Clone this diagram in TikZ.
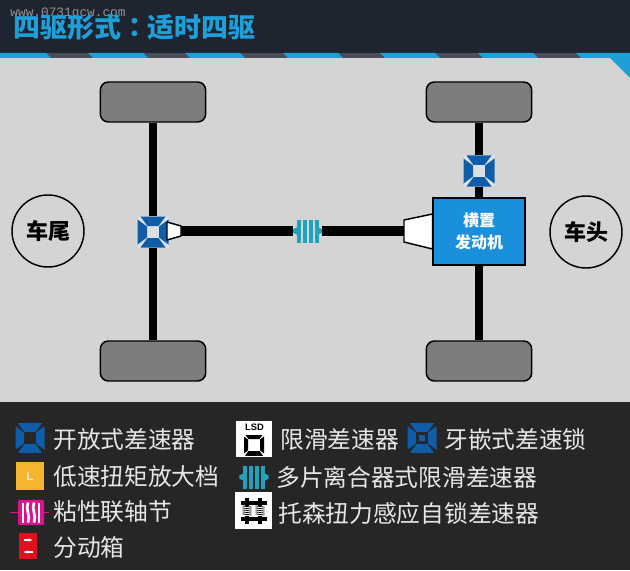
\documentclass[tikz,border=0pt]{standalone}
\usepackage{fontspec}
\setmainfont{Noto Sans CJK SC}
\newfontfamily\tcfont{Noto Sans CJK TC}
\newfontfamily\markfont{Liberation Mono}
\setsansfont{Liberation Sans}
\usetikzlibrary{arrows.meta}

\definecolor{headdark}{HTML}{1E2530}
\definecolor{stripeblue}{HTML}{1E9FD8}
\definecolor{stripegray}{HTML}{4A4E5A}
\definecolor{groundgray}{HTML}{D4D4D4}
\definecolor{legenddark}{HTML}{262626}
\definecolor{wheelgray}{HTML}{7D7D7D}
\definecolor{enginblue}{HTML}{1A8FDB}
\definecolor{diffblue}{HTML}{0F5CA8}
\definecolor{gaplight}{HTML}{DCE0E4}
\definecolor{plateteal}{HTML}{1FA3BC}
\definecolor{lowyellow}{HTML}{F5B52E}
\definecolor{viscpink}{HTML}{D9148C}
\definecolor{boxred}{HTML}{E0101E}
\definecolor{legendtext}{HTML}{E6E6E6}

\tikzset{
  wheel/.style={draw=black,line width=1.1pt,fill=wheelgray,rounded corners=6pt,
    minimum width=79pt,minimum height=30pt,inner sep=0pt},
  axle/.style={line width=6.5pt,black},
  shaft/.style={line width=7.5pt,black},
  sidecircle/.style={circle,draw=black,line width=1.1pt,fill=groundgray,minimum size=54pt,
    inner sep=0pt,font=\fontsize{16.5}{18}\selectfont\bfseries},
  cone/.style={draw=black,line width=1.1pt,fill=white,line join=round},
  legendlabel/.style={anchor=west,inner sep=0pt,text=legendtext,font=\fontsize{17.8}{20}\selectfont},
  diffsym/.style n args={3}{minimum size=#1*.75pt,inner sep=0pt,fill=#2,
    path picture={
      \begin{scope}[shift={(path picture bounding box.center)},scale=#1/31,#3]
        \fill (-12.5,15.5) -- (12.5,15.5) -- (5.5,6) -- (-5.5,6) -- cycle;
        \fill (-12.5,-15.5) -- (12.5,-15.5) -- (5.5,-6) -- (-5.5,-6) -- cycle;
        \fill (15.5,-12.5) -- (15.5,12.5) -- (6,5.5) -- (6,-5.5) -- cycle;
        \fill (-15.5,-12.5) -- (-15.5,12.5) -- (-6,5.5) -- (-6,-5.5) -- cycle;
      \end{scope}}},
  platesym/.style={minimum width=22pt,minimum height=17.5pt,inner sep=0pt,
    path picture={
      \begin{scope}[shift={(path picture bounding box.center)},plateteal]
        \foreach \px in {-9,-3,3,9}
          \fill (\px-2,-11.5) rectangle (\px+2,11.5);
        \fill (-15,-1.5) -- (-9,-4.5) -- (-9,4.5) -- (-15,1.5) -- cycle;
        \fill (15,-1.5) -- (9,-4.5) -- (9,4.5) -- (15,1.5) -- cycle;
      \end{scope}}},
  viscsym/.style={fill=viscpink,rounded corners=1pt,minimum width=19.5pt,minimum height=19pt,inner sep=0pt,
    path picture={
      \begin{scope}[shift={(path picture bounding box.center)}]
        \foreach \px in {-8,8}
          \draw[white,line width=2pt] (\px,-10) -- (\px,10);
        \foreach \px in {-3,3}
          \draw[white,line width=2pt] (\px,-10) .. controls (\px-3,-4) and (\px+3,4) .. (\px,10);
      \end{scope}}},
  redsym/.style={fill=boxred,minimum width=13.5pt,minimum height=19.5pt,inner sep=0pt,
    path picture={
      \begin{scope}[shift={(path picture bounding box.center)}]
        \draw[white,line width=1pt,-{Stealth[length=3pt]}] (-4.5,-6) -- (4.5,-6);
        \draw[white,line width=1pt,-{Stealth[length=3pt]}] (4.5,6) -- (-4.5,6);
      \end{scope}}},
  torsensym/.style={fill=white,minimum width=28pt,minimum height=27.5pt,inner sep=0pt,
    path picture={
      \begin{scope}[shift={(path picture bounding box.center)},black]
        \foreach \px in {-6.5,6.5}{
          \fill (\px-6.5,-10) rectangle (\px+6.5,-6);
          \fill (\px-6.5,6) rectangle (\px+6.5,10);
          \fill (\px-2,-13) rectangle (\px+2,-5);
          \fill (\px-2,5) rectangle (\px+2,13);
          \foreach \py in {-4,-2,0,2,4}
            \draw[line width=.6pt] (\px-4.5,\py-.6) -- (\px+4.5,\py+.6);
        }
      \end{scope}}}
}

\begin{document}
\begin{tikzpicture}[x=.75pt,y=-.75pt]
  \useasboundingbox (0,0) rectangle (630,570);
  \fill[groundgray] (0,58) rectangle (630,402);
  \fill[headdark] (0,0) rectangle (630,53);
  \fill[legenddark] (0,402) rectangle (630,570);
  \fill[stripeblue] (610,58) -- (630,58) -- (630,78) -- cycle;
  \begin{scope}
    \clip (0,53) rectangle (630,58);
    \fill[stripegray] (0,53) rectangle (630,58);
    \foreach \sx in {-4,93,190,288,385,483,581}
      \fill[stripeblue] (\sx-5,53) -- (\sx+50,53) -- (\sx+55,58) -- (\sx,58) -- cycle;
  \end{scope}

  \draw
    (68,14) node[text=gray!85,font=\markfont\fontsize{9.6}{10}\selectfont] (site){www.0731qcw.com}
    (13,27) node[anchor=west,inner sep=0pt,text=stripeblue,font=\fontsize{20.2}{22}\selectfont\bfseries] (title){四驱形式{\tcfont\bfseries ：}适时四驱}
    (153,102) node[wheel] (rearleft){}
    (153,361) node[wheel] (rearright){}
    (479,102) node[wheel] (frontleft){}
    (479,361) node[wheel] (frontright){}
    (48,231) node[sidecircle] (tail){车尾}
    (586,232) node[sidecircle] (head){车头}
    (153,232) node[diffsym={31}{gaplight}{diffblue}] (reardiff){}
    (479,171) node[diffsym={31}{gaplight}{diffblue}] (frontdiff){}
    (479,231.5) node[fill=enginblue,draw=black,line width=1.1pt,minimum width=69pt,minimum height=50pt,inner sep=0pt,
      align=center,text=white,font=\fontsize{12}{16}\selectfont\bfseries] (engine){横置\\发动机}
    (307.5,231) node[platesym] (clutch){};

  \coordinate (rearneck) at (181,231);
  \coordinate (frontneck) at (404,231);

  \begin{scope}[axle]
    \draw (rearleft) -- (reardiff);
    \draw (reardiff) -- (rearright);
    \draw (frontleft) -- (frontdiff);
    \draw (frontdiff) -- (engine);
    \draw (engine) -- (frontright);
  \end{scope}
  \begin{scope}[shaft]
    \draw (rearneck) -- (clutch);
    \draw (clutch) -- (frontneck);
  \end{scope}

  \draw[cone] (167,222) -- (181,226) -- (181,236) -- (167,240) -- cycle;
  \draw[cone] (404,220) -- (432.5,214) -- (432.5,249) -- (404,242) -- cycle;

  \draw
    (30,438) node[diffsym={29}{legenddark}{diffblue}] (opendiff){}
    (53,439) node[legendlabel] (opentext){开放式差速器}
    (30,476) node[fill=lowyellow,minimum size=21pt,inner sep=0pt,text=white!70!lowyellow,
      font=\sffamily\bfseries\fontsize{9}{10}\selectfont] (lowrange){L}
    (53,476) node[legendlabel] (lowtext){低速扭矩放大档}
    (31,512.5) node[viscsym] (viscous){}
    (53,512) node[legendlabel] (visctext){粘性联轴节}
    (28,546) node[redsym] (transfer){}
    (53,547) node[legendlabel] (transfertext){分动箱}
    (254,439) node[fill=white,minimum size=27.5pt,inner sep=0pt] (lsdbox){}
    (254.5,427.5) node[inner sep=0pt,font=\sffamily\bfseries\fontsize{7}{8}\selectfont] (lsdmark){LSD}
    (254,445) node[diffsym={20}{white}{black}] (lsddiff){}
    (280,439) node[legendlabel] (lsdtext){限滑差速器}
    (422,438) node[diffsym={29}{legenddark}{diffblue}] (lockdiff){}
    (422,438) node[fill=diffblue,minimum size=5pt,inner sep=0pt] (lockcore){}
    (444,439) node[legendlabel] (locktext){牙嵌式差速锁}
    (254,477) node[platesym] (plates){}
    (276,477) node[legendlabel] (platestext){多片离合器式限滑差速器}
    (253.5,510.5) node[torsensym] (torsen){}
    (278,513) node[legendlabel] (torsentext){托森扭力感应自锁差速器};

  \coordinate (viscleft) at (10,512.5);
  \coordinate (viscright) at (49,512.5);
  \draw[viscpink,line width=1.2pt] (viscleft) -- (viscous);
  \draw[viscpink,line width=1.2pt] (viscous) -- (viscright);
\end{tikzpicture}
\end{document}
